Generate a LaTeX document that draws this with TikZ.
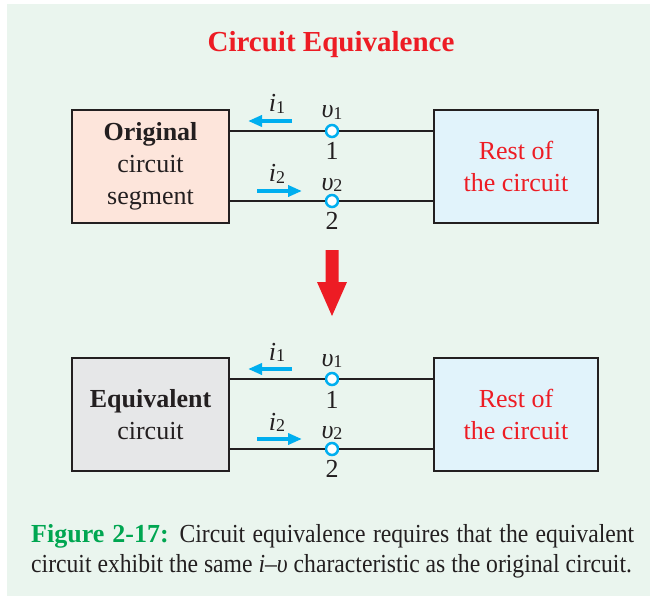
\documentclass[tikz,border=0pt]{standalone}
\usepackage{fontspec}
\setmainfont{Liberation Serif}
\newfontfamily\capfont[FakeStretch=0.91]{Liberation Serif}
\usepackage{xcolor}
\usetikzlibrary{arrows.meta, positioning}
\definecolor{bgGreen}{RGB}{234,245,238}
\definecolor{inkBlack}{RGB}{35,31,32}
\definecolor{titleRed}{RGB}{237,28,36}
\definecolor{figGreen}{RGB}{0,166,81}
\definecolor{termBlue}{RGB}{0,174,239}
\definecolor{boxPink}{RGB}{253,229,219}
\definecolor{boxBlue}{RGB}{225,243,251}
\definecolor{boxGray}{RGB}{230,231,232}
\tikzstyle{block} = [rectangle, minimum width=157pt, minimum height=113pt, text centered, draw=inkBlack, line width=2.5pt, align=center, text=inkBlack, font=\fontsize{26}{32}\selectfont]
\tikzstyle{rest} = [block, minimum width=164pt, fill=boxBlue, text=titleRed]
\tikzstyle{term} = [circle, draw=termBlue, fill=white, line width=2.5pt, minimum size=12pt, inner sep=0pt]
\tikzstyle{lbl} = [text=inkBlack, inner sep=0pt, font=\fontsize{26}{26}\selectfont]
\tikzstyle{wire} = [draw=inkBlack, line width=2.2pt]
\tikzstyle{cur} = [draw=termBlue, line width=3.5pt, -{Triangle[length=14pt, width=11pt]}]
\newcommand{\isub}[1]{\textit{i}\raisebox{-1.5pt}{\fontsize{18}{18}\selectfont #1}}
\newcommand{\vsub}[1]{\textit{υ}\raisebox{-1.5pt}{\fontsize{18}{18}\selectfont #1}}

\begin{document}
\begin{tikzpicture}[x=1pt, y=-1pt]
    \useasboundingbox (0,0) rectangle (650,596);
    \fill [bgGreen] (7,4) rectangle (650,596);

    % Title
    \node [anchor=base, text=titleRed, font=\fontsize{29}{29}\selectfont\bfseries] (title) at (331,52) {Circuit Equivalence};

    % Nodes (original)
    \node [block, fill=boxPink] (orig) at (150.5,166.5) {\textbf{Original}\\ circuit\\ segment};
    \node [rest] (restA) at (516,166.5) {Rest of\\ the circuit};
    \node [term] (tA1) at (332,131) {};
    \node [term] (tA2) at (332,201) {};
    \node [lbl, node distance=13pt, above of=tA1, anchor=base] (vA1) {\vsub{1}};
    \node [lbl, node distance=29pt, below of=tA1, anchor=base] (nA1) {1};
    \node [lbl, node distance=11pt, above of=tA2, anchor=base] (vA2) {\vsub{2}};
    \node [lbl, node distance=28pt, below of=tA2, anchor=base] (nA2) {2};
    \node [lbl, node distance=19pt, above of=tA1, xshift=-55pt, anchor=base] (iA1) {\isub{1}};
    \node [lbl, node distance=19pt, above of=tA2, xshift=-55pt, anchor=base] (iA2) {\isub{2}};

    % Edges (original)
    \path [wire] (orig.east |- tA1) -- (tA1) -- (restA.west |- tA1);
    \path [wire] (orig.east |- tA2) -- (tA2) -- (restA.west |- tA2);
    \draw [cur] ([xshift=15pt, yshift=-9pt]iA1.base) -- ([xshift=-29pt, yshift=-9pt]iA1.base);
    \draw [cur] ([xshift=-20pt, yshift=-9pt]iA2.base) -- ([xshift=25pt, yshift=-9pt]iA2.base);

    % Big arrow
    \fill [titleRed] (325.5,250) -- (338.5,250) -- (338.5,282) -- (347,282) -- (332,316) -- (317,282) -- (325.5,282) -- cycle;

    % Nodes (equivalent)
    \node [block, fill=boxGray] (equiv) at (150.5,414.5) {\textbf{Equivalent}\\ circuit};
    \node [rest] (restB) at (516,414.5) {Rest of\\ the circuit};
    \node [term] (tB1) at (332,379) {};
    \node [term] (tB2) at (332,449) {};
    \node [lbl, node distance=13pt, above of=tB1, anchor=base] (vB1) {\vsub{1}};
    \node [lbl, node distance=29pt, below of=tB1, anchor=base] (nB1) {1};
    \node [lbl, node distance=11pt, above of=tB2, anchor=base] (vB2) {\vsub{2}};
    \node [lbl, node distance=28pt, below of=tB2, anchor=base] (nB2) {2};
    \node [lbl, node distance=19pt, above of=tB1, xshift=-55pt, anchor=base] (iB1) {\isub{1}};
    \node [lbl, node distance=19pt, above of=tB2, xshift=-55pt, anchor=base] (iB2) {\isub{2}};

    % Edges (equivalent)
    \path [wire] (equiv.east |- tB1) -- (tB1) -- (restB.west |- tB1);
    \path [wire] (equiv.east |- tB2) -- (tB2) -- (restB.west |- tB2);
    \draw [cur] ([xshift=15pt, yshift=-9pt]iB1.base) -- ([xshift=-29pt, yshift=-9pt]iB1.base);
    \draw [cur] ([xshift=-20pt, yshift=-9pt]iB2.base) -- ([xshift=25pt, yshift=-9pt]iB2.base);

    % Caption
    \node [anchor=north west, inner sep=0pt, text width=603pt, align=justify, text=inkBlack, font=\fontsize{26}{30}\selectfont\capfont] (caption) at (31,524) {\parfillskip=0pt \hyphenpenalty=10000 {\rmfamily\color{figGreen}\bfseries Figure 2-17:} Circuit equivalence requires that the equivalent circuit exhibit the same \textit{i}–\textit{υ} characteristic as the original circuit.};
\end{tikzpicture}
\end{document}
